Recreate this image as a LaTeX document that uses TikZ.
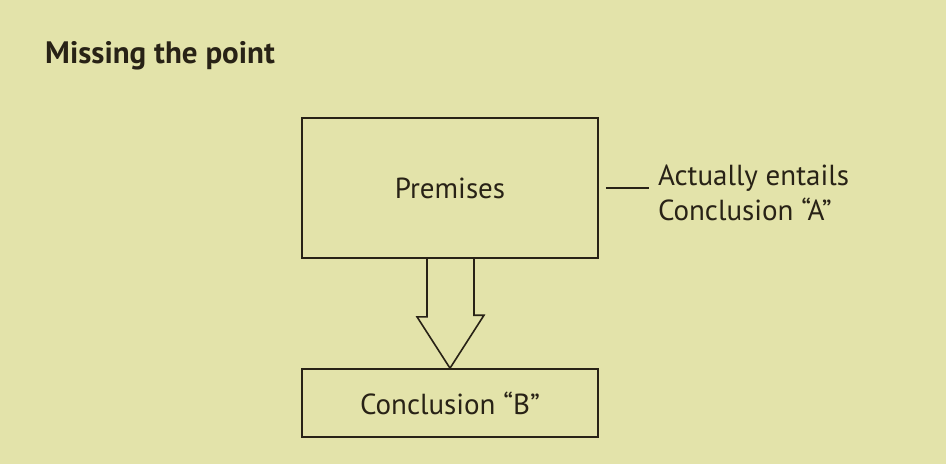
\documentclass[tikz,border=0pt]{standalone}
\usepackage{fontspec}
\setmainfont{PT Sans}
\definecolor{bg}{RGB}{227,227,170}
\definecolor{ink}{RGB}{40,34,22}
\begin{document}
\begin{tikzpicture}[x=1pt,y=-1pt,
  every node/.style={text=ink, inner sep=0pt},
  box/.style={draw=ink, line width=1.6pt, minimum width=296pt},
  txt/.style={font=\fontsize{29}{35}\selectfont},
  conn/.style={draw=ink, line width=1.6pt, line join=miter}]
\fill[bg] (0,0) rectangle (946,464);
\useasboundingbox (0,0) rectangle (946,464);
\node[anchor=base west, font=\fontsize{31}{34}\selectfont\bfseries] (title) at (45,63) {Missing the point};
\node[box, minimum height=140pt, txt] (prem) at (450,188) {Premises};
\node[box, minimum height=68pt, txt] (concl) at (450,403) {Conclusion “B”};
\coordinate (l1) at ([xshift=7pt]prem.east);
\coordinate (l2) at ([xshift=50pt]prem.east);
\draw[conn] (l1) -- (l2);
\node[anchor=west, align=left, txt] (note) at ([xshift=9pt,yshift=-5pt]l2) {Actually entails\\Conclusion “A”};
\draw[conn] ([xshift=-23pt]prem.south) -- ++(0,58) -- ++(-10,0) -- (concl.north) -- ([xshift=34pt,yshift=53pt]concl.north) -- ++(-10,0) -- ([xshift=24pt]prem.south);
\end{tikzpicture}
\end{document}
